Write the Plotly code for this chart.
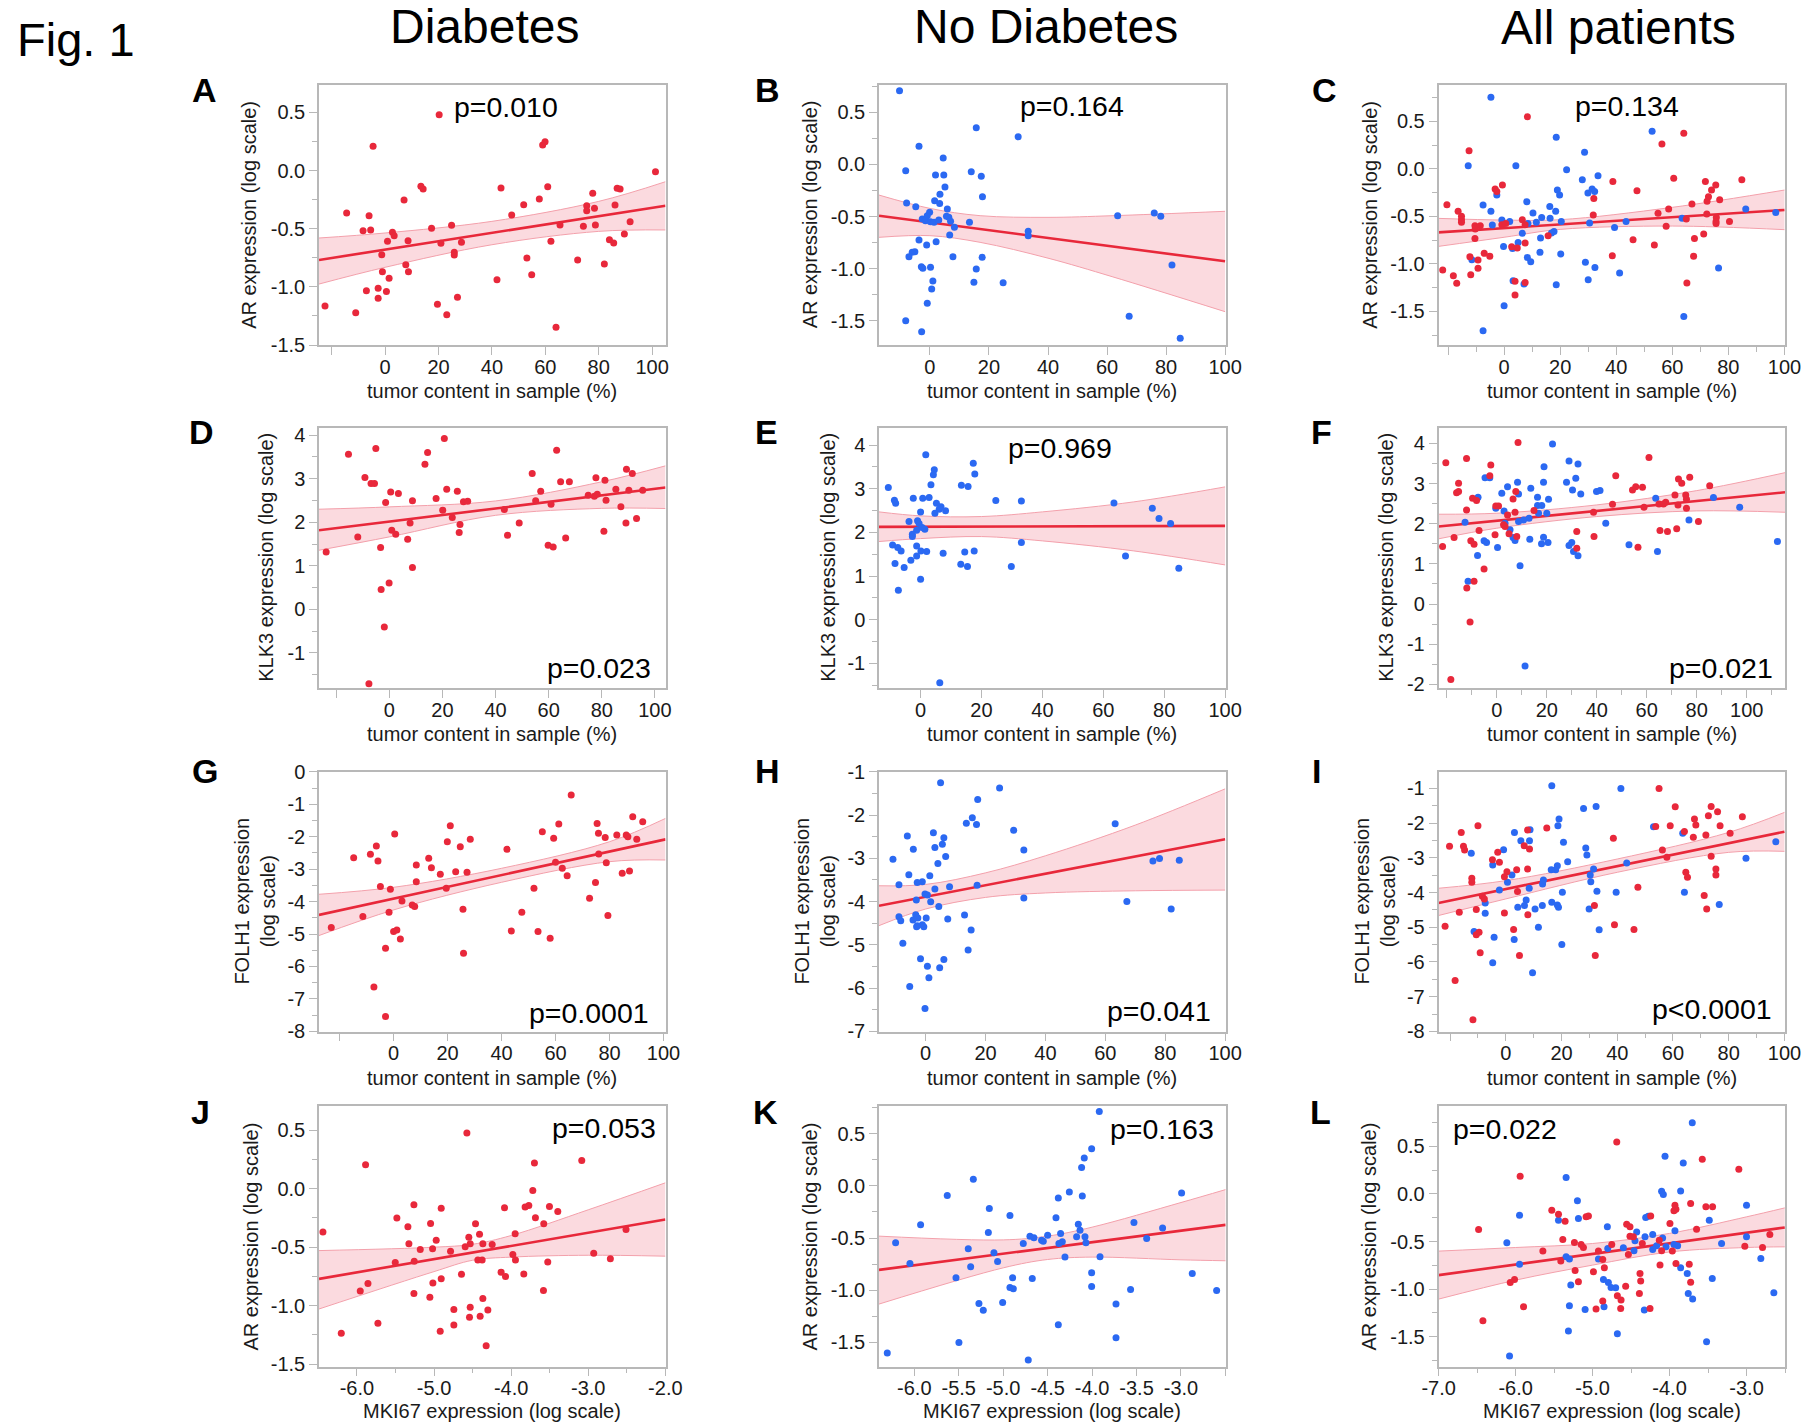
import plotly.graph_objects as go

# ---------------- data ----------------
A_diab = [(20.25,0.48),(-4.5,0.208),(59,0.219),(59.9,0.248),(101.25,-0.01),(43.4,-0.15),(60.9,-0.14),(13.4,-0.136),(14.25,-0.159),(7.1,-0.254),(57.75,-0.245),(51.9,-0.294),(77.75,-0.196),(86.9,-0.153),(88,-0.159),(86.1,-0.297),(75.5,-0.302),(75.5,-0.345),(78.4,-0.325),(-14.4,-0.365),(-6,-0.388),(47.4,-0.383),(91.75,-0.44),(-8.25,-0.517),(-5.4,-0.511),(17.4,-0.497),(24.9,-0.471),(65.5,-0.468),(74.25,-0.48),(78.75,-0.468),(2.75,-0.53),(3.4,-0.56),(0.9,-0.609),(8.6,-0.603),(20.9,-0.626),(28.6,-0.617),(62.1,-0.609),(84,-0.595),(85.6,-0.623),(89.6,-0.546),(-1.25,-0.723),(25.9,-0.703),(25.9,-0.726),(53.1,-0.752),(72.1,-0.769),(7.75,-0.809),(8.75,-0.87),(82.1,-0.804),(-1,-0.87),(1.5,-0.927),(54.9,-0.895),(41.9,-0.938),(-2.6,-1.013),(-7,-1.033),(0.5,-1.039),(-2.6,-1.099),(27.1,-1.09),(-22.5,-1.165),(-11,-1.222),(19.6,-1.15),(23.1,-1.239),(64,-1.348)]
A_fit_x = [-24.75, 105]
A_fit_y = [-0.769, -0.302]
A_band_x = [-24.75, 0, 40, 80, 105]
A_band_hi = [-0.58, -0.537, -0.437, -0.265, -0.096]
A_band_lo = [-0.976, -0.832, -0.638, -0.523, -0.511]

B_nodiab = [(-10.3,0.708),(-8.2,-0.06),(-3.7,0.174),(4.5,0.062),(1.9,-0.102),(4.7,-0.102),(14,-0.07),(17.4,-0.114),(15.7,0.353),(29.9,0.266),(5.1,-0.217),(3.4,-0.287),(17.8,-0.31),(-7.9,-0.37),(-4.8,-0.406),(1.6,-0.348),(3.3,-0.374),(5.9,-0.428),(-0.1,-0.46),(-0.9,-0.492),(-2.6,-0.524),(-1.5,-0.54),(0.2,-0.55),(1.4,-0.556),(3,-0.534),(5.6,-0.498),(6.4,-0.508),(7,-0.546),(8.3,-0.604),(13.4,-0.556),(6.7,-0.678),(63.6,-0.492),(76,-0.466),(78.2,-0.498),(33.3,-0.642),(33.3,-0.684),(-3.7,-0.726),(-1.1,-0.774),(2.1,-0.742),(-5.1,-0.838),(-6,-0.844),(-7.1,-0.886),(7.8,-0.886),(17.7,-0.892),(-2.9,-0.982),(-2.4,-0.998),(0.2,-0.988),(15.7,-1.004),(82,-0.966),(1,-1.119),(0.6,-1.196),(14.9,-1.132),(24.8,-1.135),(-0.9,-1.334),(-8.2,-1.5),(-2.8,-1.606),(67.5,-1.458),(84.8,-1.67)]
B_fit_x = [-17.25, 100]
B_fit_y = [-0.492, -0.93]
B_band_x = [-17.25, 0, 17, 40, 62, 100]
B_band_hi = [-0.294, -0.422, -0.492, -0.508, -0.492, -0.45]
B_band_lo = [-0.70, -0.684, -0.748, -0.90, -1.08, -1.414]

C_nodiab = [(-4.7,0.753),(-12.8,0.033),(4.2,0.033),(18.6,0.332),(28.7,0.174),(22.3,-0.009),(52.8,0.395),(27.9,-0.114),(33.5,-0.072),(-2.6,-0.275),(19,-0.223),(19.8,-0.275),(29.9,-0.254),(31.4,-0.212),(32.3,-0.237),(-7.5,-0.381),(-4.7,-0.447),(16.3,-0.395),(18.4,-0.447),(8.1,-0.346),(10.3,-0.465),(13.4,-0.511),(16.4,-0.521),(-0.8,-0.539),(2,-0.553),(-4.2,-0.591),(11.5,-0.563),(20.4,-0.553),(30.5,-0.57),(39.4,-0.616),(43.5,-0.553),(63.5,-0.521),(86.2,-0.423),(96.9,-0.458),(6.5,-0.679),(8.5,-0.574),(17.8,-0.658),(16.9,-0.675),(13,-0.728),(5,-0.774),(-0.2,-0.816),(3,-0.837),(12.8,-0.879),(20.2,-0.896),(8.3,-0.932),(9.5,-0.977),(-11.5,-0.956),(29,-0.984),(32.4,-1.037),(41.2,-1.096),(76.5,-1.044),(3.2,-1.177),(30,-1.167),(7.1,-1.212),(18.6,-1.219),(0,-1.44),(-7.5,-1.704),(64.1,-1.553)]
C_diab = [(8.3,0.549),(-12.5,0.191),(64.1,0.374),(56.3,0.261),(60.5,-0.1),(71.8,-0.132),(84.8,-0.114),(38.8,-0.132),(-0.6,-0.17),(-3.2,-0.212),(-2.6,-0.237),(47.4,-0.23),(74,-0.223),(75.5,-0.17),(32,-0.311),(72.9,-0.293),(72.4,-0.342),(76.9,-0.325),(-20.4,-0.377),(-16.4,-0.447),(67,-0.37),(-15.2,-0.5),(-15.2,-0.535),(-15.2,-0.563),(31.8,-0.486),(54.9,-0.468),(58.7,-0.423),(72.3,-0.475),(75.7,-0.511),(75.6,-0.553),(75.6,-0.574),(65,-0.528),(80.4,-0.553),(6.5,-0.535),(7.5,-0.588),(-0.8,-0.588),(0.6,-0.574),(-10.4,-0.598),(-8.5,-0.598),(-10.3,-0.633),(-10.4,-0.732),(57.8,-0.605),(15.7,-0.704),(7.5,-0.781),(71.2,-0.686),(46,-0.746),(67.9,-0.732),(53.6,-0.802),(2.7,-0.819),(4.7,-0.833),(-7.1,-0.889),(-5.1,-0.921),(-12.2,-0.925),(-9.3,-0.96),(38.6,-0.914),(67.6,-0.921),(-21.9,-1.065),(-9.3,-1.047),(-18.1,-1.125),(-11.9,-1.114),(-16.9,-1.205),(3.9,-1.184),(7.5,-1.195),(65.2,-1.202),(3.9,-1.328)]
C_fit_x = [-23.4, 100]
C_fit_y = [-0.668, -0.433]
C_band_x = [-23.4, 0, 20, 60, 100]
C_band_hi = [-0.521, -0.539, -0.535, -0.405, -0.223]
C_band_lo = [-0.816, -0.72, -0.637, -0.602, -0.64]

D_diab = [(20.7,3.923),(-5.1,3.694),(-15.4,3.564),(14.4,3.602),(63,3.655),(13.4,3.334),(-9.2,3.028),(-6.9,2.89),(-5.6,2.89),(53.8,3.119),(77.8,3.02),(81.2,2.966),(89.3,3.219),(91.5,3.119),(64.5,2.928),(67.8,2.928),(21.6,2.76),(25.6,2.714),(57,2.714),(0.5,2.698),(3.4,2.66),(85.3,2.76),(90.2,2.737),(95.4,2.737),(74.9,2.622),(77.2,2.599),(78.3,2.645),(55.1,2.492),(81.6,2.507),(17.6,2.545),(-1.4,2.453),(8.7,2.492),(27.9,2.469),(29.5,2.484),(60.9,2.415),(20.1,2.277),(43.3,2.293),(23.7,2.109),(87.2,2.354),(7.8,1.986),(26.6,1.948),(48.9,1.986),(89.1,1.986),(93.1,2.086),(0.9,1.818),(2.4,1.726),(26.3,1.764),(44.5,1.703),(80.8,1.795),(-11.9,1.665),(6.9,1.611),(66.4,1.642),(59.8,1.473),(61.7,1.435),(-23.8,1.32),(-3.3,1.42),(8.7,0.96),(-3.1,0.455),(-0.1,0.608),(-1.9,-0.403),(-7.7,-1.704)]
D_fit_x = [-26.5, 104]
D_fit_y = [1.818, 2.798]
D_band_x = [-26.5, 0, 40, 80, 104]
D_band_hi = [2.3, 2.354, 2.49, 2.93, 3.296]
D_band_lo = [1.358, 1.665, 2.16, 2.32, 2.316]

E_nodiab = [(1.7,3.778),(17.3,3.587),(4.5,3.434),(4.2,3.32),(17.8,3.342),(-10.6,3.029),(3.4,3.09),(13.4,3.083),(15.6,3.052),(-8.6,2.739),(-8.2,2.67),(-2.4,2.784),(0.7,2.784),(2.8,2.8),(24.7,2.731),(33.1,2.723),(63.5,2.677),(5.2,2.67),(6.7,2.586),(8.2,2.494),(6.1,2.532),(4.7,2.44),(0,2.471),(76.1,2.555),(78.3,2.318),(82.1,2.203),(-3.8,2.249),(-1,2.265),(-0.5,2.203),(0.5,2.112),(1.4,2.073),(-1.3,2.05),(-2.7,1.959),(-2.7,1.905),(33.1,1.768),(-9.2,1.714),(-7.5,1.653),(-6.4,1.576),(-1.3,1.691),(0.1,1.576),(2,1.561),(7.4,1.523),(14.5,1.553),(17.6,1.576),(-1.3,1.462),(-3.2,1.362),(-8.4,1.286),(-5.4,1.194),(13.2,1.271),(15.4,1.217),(29.8,1.217),(67.3,1.462),(84.8,1.179),(0,0.927),(-7.3,0.674),(6.3,-1.443)]
E_fit_x = [-13.66, 100]
E_fit_y = [2.127, 2.15]
E_band_x = [-13.66, 0, 20, 40, 70, 100]
E_band_hi = [2.471, 2.379, 2.364, 2.471, 2.7, 3.044]
E_band_lo = [1.791, 1.859, 1.905, 1.806, 1.576, 1.255]

F_diab = [(8.5,4.025),(-20.4,3.52),(-12.1,3.627),(-2.4,3.462),(-2.8,3.197),(-15.3,3.007),(-16.1,2.775),(-15.3,2.8),(60.9,3.652),(47.6,3.197),(77.2,3.156),(72.7,3.114),(74,3.007),(85.2,2.949),(54.3,2.841),(55.6,2.924),(58.3,2.907),(7.6,2.8),(-9.7,2.634),(-8.1,2.576),(6.5,2.618),(-0.4,2.444),(0.7,2.444),(71.3,2.717),(75.6,2.717),(75.9,2.609),(67.6,2.535),(64.9,2.493),(72.5,2.469),(75.9,2.386),(46.3,2.485),(58.9,2.411),(66.7,2.493),(-12.1,2.344),(14.9,2.328),(7.3,2.286),(38.7,2.286),(4.3,2.22),(2.7,1.972),(3.3,1.93),(80.7,2.055),(-7.1,1.831),(4.9,1.748),(-0.7,1.724),(8,1.682),(32,1.806),(65.3,1.831),(68.3,1.806),(72,1.873),(38.9,1.682),(-17.1,1.657),(-21.7,1.434),(-10.4,1.575),(-9.1,1.492),(32,1.392),(56.5,1.417),(-5.1,0.871),(-9.1,0.565),(-12,0.399),(-10.7,-0.445),(-18.4,-1.878)]
F_nodiab = [(22.3,3.983),(28.9,3.561),(32.5,3.487),(18.9,3.421),(-4.7,3.147),(-2.8,3.147),(31.6,3.131),(27.9,3.031),(8.3,3.031),(18.7,3.031),(4.3,2.924),(13.6,2.882),(30.3,2.841),(33.6,2.742),(39.9,2.8),(41.3,2.825),(2,2.758),(8.7,2.742),(-7.5,2.659),(16.3,2.659),(63.6,2.634),(86.7,2.651),(20.7,2.609),(16.3,2.452),(18,2.452),(-0.4,2.386),(2.9,2.32),(16.7,2.262),(20,2.262),(97.2,2.411),(12.9,2.137),(10.7,2.096),(8.7,2.055),(-12.7,2.038),(3.3,2.013),(43.6,2.013),(76.9,2.096),(5.3,1.848),(6.5,1.657),(7.3,1.583),(13.2,1.616),(18.7,1.666),(17.9,1.5),(20.5,1.533),(-5.1,1.575),(-4.1,1.533),(0.3,1.409),(30,1.533),(28.9,1.459),(52.9,1.475),(64.3,1.31),(112.3,1.558),(30.7,1.31),(32.5,1.202),(-7.7,1.21),(9.3,0.954),(-11.5,0.565),(11.3,-1.546)]
F_fit_x = [-23.33, 115.33]
F_fit_y = [1.93, 2.783]
F_band_x = [-23.33, 0, 40, 80, 115.33]
F_band_hi = [2.237, 2.262, 2.469, 2.825, 3.272]
F_band_lo = [1.624, 1.889, 2.179, 2.32, 2.286]

G_diab = [(65.8,-0.718),(88.6,-1.385),(92.3,-1.538),(21,-1.662),(61.2,-1.61),(75.4,-1.59),(0.4,-1.918),(55.1,-1.846),(75.9,-1.897),(78.4,-2.021),(82.7,-1.949),(86.2,-1.949),(86.8,-2),(90.1,-2.082),(59.3,-2.051),(19.9,-2.154),(28.4,-2.082),(24.7,-2.308),(-6.4,-2.287),(42,-2.39),(-14.8,-2.646),(-8.6,-2.544),(-5.8,-2.749),(13,-2.667),(76,-2.533),(60,-2.79),(8.4,-2.872),(14,-2.954),(62.5,-2.974),(78.8,-2.8),(23,-3.077),(27.2,-3.097),(64.3,-3.2),(84.7,-3.128),(87.4,-3.056),(17.3,-3.159),(8.4,-3.385),(-4.9,-3.538),(-1.2,-3.621),(19.5,-3.59),(52,-3.59),(74.8,-3.415),(72.6,-3.897),(3.1,-3.979),(6.9,-4.103),(7.8,-4.154),(-1.7,-4.328),(47.5,-4.328),(-11.4,-4.462),(79.4,-4.431),(25.7,-4.236),(-23.1,-4.8),(0,-4.923),(1.2,-4.872),(43.6,-4.903),(53.5,-4.923),(2.5,-5.149),(58,-5.128),(-3,-5.436),(25.9,-5.59),(-7.3,-6.636),(-3,-7.538)]
G_fit_x = [-27.65, 100.74]
G_fit_y = [-4.41, -2.082]
G_band_x = [-27.65, 0, 40, 80, 100.74]
G_band_hi = [-3.774, -3.559, -2.974, -2.154, -1.436]
G_band_lo = [-5.046, -4.256, -3.405, -2.769, -2.718]

H_nodiab = [(5,-1.253),(24.7,-1.369),(17.4,-1.637),(15.6,-2.06),(13.6,-2.19),(17,-2.214),(63.3,-2.198),(29.4,-2.352),(2.6,-2.406),(-6.1,-2.482),(6.1,-2.521),(5.6,-2.674),(3.1,-2.751),(-4.1,-2.79),(32.8,-2.805),(6.7,-2.959),(-10.9,-3.02),(75.9,-3.058),(78.1,-3.005),(84.7,-3.043),(4.1,-3.12),(-5.6,-3.381),(1.4,-3.404),(-8.9,-3.611),(-2.8,-3.558),(-1.1,-3.542),(8,-3.657),(17.2,-3.619),(3.1,-3.711),(-0.2,-3.826),(0.6,-3.849),(32.8,-3.919),(-3.1,-3.965),(1.7,-4.003),(67.2,-3.995),(4.4,-4.111),(82,-4.172),(-3.3,-4.303),(-8.9,-4.349),(-2.6,-4.379),(0.2,-4.379),(13,-4.31),(7.4,-4.402),(-8.3,-4.441),(-4.2,-4.425),(-2.8,-4.556),(-1.1,-4.533),(-3,-4.579),(-0.6,-4.579),(15.2,-4.656),(-7.6,-4.963),(14.2,-5.117),(-1.7,-5.324),(6.1,-5.339),(0.6,-5.493),(4.7,-5.532),(1.1,-5.762),(-5.3,-5.962),(-0.2,-6.476)]
H_fit_x = [-15.56, 100]
H_fit_y = [-4.095, -2.559]
H_band_x = [-15.56, 0, 20, 40, 70, 100]
H_band_hi = [-3.634, -3.603, -3.335, -2.94, -2.23, -1.392]
H_band_lo = [-4.556, -4.172, -3.903, -3.80, -3.75, -3.734]

I_nodiab = [(16.5,-0.923),(41.3,-1),(27.9,-1.575),(32.4,-1.518),(19.1,-1.882),(18.7,-2.074),(3.1,-2.266),(53,-2.103),(63.5,-2.294),(5.4,-2.505),(8.5,-2.505),(8.7,-2.189),(20.7,-2.553),(96.9,-2.534),(-12.4,-2.87),(-0.8,-2.764),(28.7,-2.716),(29.1,-2.918),(86.2,-3.013),(22.2,-3.109),(-4.7,-3.205),(18.5,-3.224),(17.9,-3.339),(16.3,-3.339),(31.5,-3.32),(43.4,-3.148),(2.2,-3.493),(0.6,-3.704),(13.5,-3.637),(13.2,-3.752),(30.3,-3.493),(30.5,-3.685),(-2.3,-3.924),(8.4,-3.876),(20.3,-3.991),(32.7,-3.963),(39.6,-3.991),(64.1,-3.991),(-7.4,-4.298),(7.3,-4.212),(6.7,-4.375),(4.3,-4.423),(10.5,-4.471),(13.1,-4.375),(16.5,-4.279),(18.5,-4.356),(18.9,-4.423),(29.9,-4.471),(76.6,-4.346),(-7.4,-4.595),(11.7,-4.998),(33.5,-5.075),(-11.4,-5.123),(3,-5.353),(-4.2,-5.286),(20.1,-5.497),(-4.7,-6.024),(9.6,-6.312)]
I_diab = [(55,-1),(60.8,-1.527),(73.7,-1.518),(76,-1.671),(67.7,-1.882),(72.7,-1.786),(68.2,-2.055),(59,-2.074),(53.8,-2.093),(76.9,-2.074),(84.9,-1.815),(-10,-2.074),(14.7,-2.141),(7.8,-2.199),(64.1,-2.237),(-16,-2.266),(80.5,-2.294),(71.8,-2.342),(67.3,-2.409),(38.6,-2.438),(-20.2,-2.668),(-15.2,-2.668),(-14.8,-2.774),(6.6,-2.649),(8.5,-2.745),(-2.9,-2.841),(56.2,-2.774),(57.8,-2.985),(73.7,-2.956),(-4.8,-3.052),(-2.3,-3.129),(3.9,-3.339),(7.8,-3.32),(0.4,-3.397),(-0.5,-3.541),(75.4,-3.32),(64.6,-3.416),(75.4,-3.493),(65.2,-3.56),(-12.2,-3.589),(-12.2,-3.704),(4.2,-3.972),(47.4,-3.848),(-8.4,-4.106),(-7.7,-4.183),(71.2,-4.087),(31.8,-4.375),(-10.6,-4.49),(72.1,-4.471),(-16.7,-4.567),(-0.5,-4.586),(7.9,-4.643),(39,-4.931),(46,-5.065),(2.8,-5.065),(-21.8,-4.969),(-9.6,-5.142),(-10.6,-5.219),(-9.2,-5.736),(4.9,-5.813),(32.1,-5.813),(-18.2,-6.532),(-11.8,-7.663)]
I_fit_x = [-24.16, 100]
I_fit_y = [-4.298, -2.246]
I_band_x = [-24.16, 0, 40, 80, 100]
I_band_hi = [-3.876, -3.656, -3.033, -2.266, -1.69]
I_band_lo = [-4.662, -4.183, -3.416, -2.841, -2.812]

J_diab = [(-4.574,0.477),(-5.888,0.206),(-3.698,0.22),(-3.084,0.243),(-3.719,-0.014),(-3.771,-0.143),(-3.819,-0.157),(-3.503,-0.151),(-4.086,-0.163),(-4.907,-0.166),(-5.261,-0.137),(-3.395,-0.194),(-5.482,-0.251),(-3.685,-0.249),(-5.339,-0.326),(-5.045,-0.297),(-4.462,-0.3),(-3.577,-0.3),(-4.41,-0.389),(-3.948,-0.386),(-6.441,-0.369),(-2.51,-0.349),(-4.972,-0.44),(-4.549,-0.414),(-5.326,-0.471),(-4.531,-0.471),(-4.367,-0.471),(-4.246,-0.477),(-4.596,-0.497),(-5.179,-0.52),(-5.019,-0.514),(-4.786,-0.534),(-3.978,-0.563),(-2.929,-0.551),(-5.503,-0.631),(-5.257,-0.62),(-4.432,-0.609),(-4.376,-0.609),(-3.944,-0.609),(-3.525,-0.626),(-2.713,-0.6),(-4.13,-0.714),(-4.073,-0.751),(-3.836,-0.729),(-4.644,-0.731),(-5.015,-0.806),(-4.907,-0.771),(-5.857,-0.811),(-5.957,-0.874),(-3.581,-0.871),(-5.261,-0.897),(-5.054,-0.929),(-4.367,-0.94),(-4.743,-1.034),(-4.531,-1.014),(-4.302,-1.037),(-4.54,-1.1),(-4.402,-1.091),(-5.728,-1.151),(-4.743,-1.166),(-4.92,-1.22),(-6.203,-1.237),(-4.324,-1.343)]
J_fit_x = [-6.492, -2.0]
J_fit_y = [-0.771, -0.263]
J_band_x = [-6.492, -5, -4.5, -4, -3, -2.0]
J_band_hi = [-0.529, -0.5, -0.475, -0.4, -0.18, 0.051]
J_band_lo = [-1.029, -0.709, -0.612, -0.585, -0.569, -0.577]

K_nodiab = [(-3.919,0.711),(-4.005,0.356),(-4.088,0.267),(-4.118,0.175),(-5.336,0.063),(-4.256,-0.058),(-4.11,-0.097),(-2.993,-0.068),(-5.629,-0.093),(-4.38,-0.116),(-5.156,-0.218),(-4.924,-0.285),(-4.406,-0.307),(-5.929,-0.374),(-4.155,-0.368),(-3.529,-0.352),(-4.136,-0.425),(-4.354,-0.457),(-5.167,-0.447),(-3.207,-0.403),(-4.699,-0.482),(-4.654,-0.498),(-4.5,-0.473),(-4.174,-0.489),(-4.08,-0.489),(-4.568,-0.521),(-4.549,-0.53),(-4.335,-0.537),(-4.373,-0.553),(-3.386,-0.505),(-4.069,-0.546),(-6.21,-0.546),(-4.774,-0.553),(-5.393,-0.604),(-5.104,-0.642),(-6.049,-0.744),(-5.366,-0.776),(-5.063,-0.725),(-4.305,-0.683),(-3.911,-0.68),(-5.531,-0.881),(-4.894,-0.881),(-4.673,-0.888),(-2.873,-0.84),(-4.005,-0.833),(-4.924,-0.974),(-4.886,-0.986),(-4.005,-0.964),(-3.567,-0.993),(-2.599,-1.002),(-5.273,-1.127),(-5.224,-1.191),(-5.006,-1.117),(-3.731,-1.133),(-4.38,-1.331),(-5.498,-1.5),(-3.731,-1.455),(-6.304,-1.602),(-4.718,-1.669)]
K_fit_x = [-6.397, -2.498]
K_fit_y = [-0.805, -0.374]
K_band_x = [-6.397, -5, -4.5, -4, -3, -2.498]
K_band_hi = [-0.482, -0.518, -0.482, -0.396, -0.16, -0.036]
K_band_lo = [-1.133, -0.786, -0.706, -0.683, -0.709, -0.718]

L_nodiab = [(-3.705,0.748),(-4.059,0.395),(-3.822,0.325),(-5.344,0.171),(-4.103,0.028),(-4.081,-0.007),(-3.856,0.031),(-5.197,-0.073),(-3,-0.119),(-5.949,-0.224),(-5.443,-0.276),(-5.184,-0.259),(-4.31,-0.248),(-4.276,-0.234),(-3.484,-0.276),(-4.808,-0.346),(-4.427,-0.399),(-4.219,-0.427),(-3.93,-0.388),(-4.09,-0.462),(-4.319,-0.451),(-6.114,-0.514),(-3.324,-0.521),(-3,-0.451),(-4.449,-0.493),(-4.168,-0.545),(-4.046,-0.556),(-3.943,-0.531),(-3.895,-0.545),(-4.803,-0.573),(-4.6,-0.566),(-4.462,-0.598),(-4.219,-0.584),(-5.949,-0.738),(-5.344,-0.661),(-5.301,-0.685),(-4.924,-0.685),(-2.814,-0.678),(-3.856,-0.776),(-3.77,-0.836),(-5.283,-0.958),(-4.859,-0.899),(-4.795,-0.93),(-4.76,-0.983),(-4.7,-0.986),(-3.445,-0.888),(-3.757,-1.045),(-3.7,-1.105),(-2.645,-1.038),(-5.301,-1.175),(-5.097,-1.213),(-4.851,-1.185),(-4.328,-1.22),(-5.314,-1.441),(-4.678,-1.469),(-3.519,-1.552),(-6.079,-1.703)]
L_diab = [(-4.686,0.545),(-3.575,0.364),(-3.1,0.259),(-5.941,0.185),(-3.93,-0.119),(-3.917,-0.161),(-3.726,-0.101),(-3.528,-0.136),(-3.441,-0.136),(-3.943,-0.178),(-5.53,-0.171),(-5.443,-0.213),(-5.084,-0.241),(-5.054,-0.231),(-4.245,-0.231),(-5.357,-0.287),(-4.557,-0.318),(-4.514,-0.346),(-3.995,-0.311),(-6.481,-0.374),(-3.649,-0.371),(-4.514,-0.444),(-4.47,-0.451),(-2.697,-0.427),(-5.387,-0.479),(-5.236,-0.51),(-5.149,-0.531),(-5.119,-0.563),(-4.751,-0.531),(-4.354,-0.521),(-4.133,-0.486),(-3.022,-0.549),(-2.792,-0.563),(-5.646,-0.601),(-4.924,-0.601),(-4.103,-0.598),(-3.964,-0.601),(-4.535,-0.636),(-4.868,-0.689),(-5.413,-0.706),(-4.124,-0.748),(-3.917,-0.731),(-3.744,-0.738),(-4.847,-0.776),(-5.227,-0.804),(-4.989,-0.818),(-4.384,-0.836),(-6.014,-0.899),(-6.07,-0.93),(-5.184,-0.923),(-4.375,-0.916),(-3.726,-0.927),(-4.57,-0.969),(-4.392,-1.045),(-4.678,-1.07),(-4.63,-1.115),(-4.868,-1.126),(-5.897,-1.185),(-4.955,-1.21),(-4.635,-1.203),(-4.254,-1.203),(-6.425,-1.332)]
L_fit_x = [-7.0, -2.503]
L_fit_y = [-0.853, -0.353]
L_band_x = [-7.0, -6, -5, -4, -3, -2.503]
L_band_hi = [-0.601, -0.563, -0.521, -0.415, -0.241, -0.147]
L_band_lo = [-1.105, -0.906, -0.748, -0.61, -0.563, -0.556]

P_VALUES = ["p=0.010", "p=0.164", "p=0.134", "p=0.023", "p=0.969", "p=0.021",
            "p=0.0001", "p=0.041", "p<0.0001", "p=0.053", "p=0.163", "p=0.022"]
COLUMN_TITLES = ["Diabetes", "No Diabetes", "All patients"]
AR_TICKS = [-1.5, -1.0, -0.5, 0.0, 0.5]
AR_TICKTEXT = ["-1.5", "-1.0", "-0.5", "0.0", "0.5"]
TUMOR_TICKS = [-20, 0, 20, 40, 60, 80, 100]
TUMOR_TICKTEXT = ["", "0", "20", "40", "60", "80", "100"]

# ---------------- styling / layout ----------------
W, H = 1801, 1427
FONT = "Liberation Sans, Arial, sans-serif"
RED = "#E8283B"
BLUE = "#2B69F2"
FIT = "#E8283A"
BAND_FILL = "rgba(240,100,120,0.24)"
BAND_EDGE = "#F3A0AB"
FRAME = "#B8B8B8"
TXT = "#1a1a1a"

def fxp(px):
    return px / W

def fyp(py):
    return 1 - py / H

COLS = [(319.0, 665.5), (879.0, 1225.7), (1438.5, 1785.0)]
ROWS = [(84.7, 345.0), (427.5, 688.0), (771.5, 1031.7), (1106.3, 1366.7)]

def int_ticks(a, b):
    v = list(range(a, b + 1))
    return v, [str(t) for t in v]

panels = [
    dict(letter="A", row=0, col=0, series=[(A_diab, RED)], fit=(A_fit_x, A_fit_y), band=(A_band_x, A_band_hi, A_band_lo),
         xr=[-24.75, 105], yr=[-1.5, 0.738], xt=(TUMOR_TICKS, TUMOR_TICKTEXT), xminor=None,
         yt=(AR_TICKS, AR_TICKTEXT), yminor=0.25, ytitle="AR expression (log scale)", ytx=249,
         xtitle="tumor content in sample (%)", p=(506, 107, "center"), lx=191),
    dict(letter="B", row=0, col=1, series=[(B_nodiab, BLUE)], fit=(B_fit_x, B_fit_y), band=(B_band_x, B_band_hi, B_band_lo),
         xr=[-17.25, 100.2], yr=[-1.734, 0.766], xt=(TUMOR_TICKS[1:], TUMOR_TICKTEXT[1:]), xminor=None,
         yt=(AR_TICKS, AR_TICKTEXT), yminor=0.25, ytitle="AR expression (log scale)", ytx=809.5,
         xtitle="tumor content in sample (%)", p=(1072, 106, "center"), lx=754),
    dict(letter="C", row=0, col=2, series=[(C_nodiab, BLUE), (C_diab, RED)], fit=(C_fit_x, C_fit_y), band=(C_band_x, C_band_hi, C_band_lo),
         xr=[-23.4, 100.2], yr=[-1.854, 0.886], xt=(TUMOR_TICKS, TUMOR_TICKTEXT), xminor=10,
         yt=(AR_TICKS, AR_TICKTEXT), yminor=0.25, ytitle="AR expression (log scale)", ytx=1370,
         xtitle="tumor content in sample (%)", p=(1627, 106, "center"), lx=1311),
    dict(letter="D", row=1, col=0, series=[(D_diab, RED)], fit=(D_fit_x, D_fit_y), band=(D_band_x, D_band_hi, D_band_lo),
         xr=[-26.5, 104], yr=[-1.804, 4.176], xt=(TUMOR_TICKS, TUMOR_TICKTEXT), xminor=None,
         yt=int_ticks(-1, 4), yminor=0.5, ytitle="KLK3 expression (log scale)", ytx=266,
         xtitle="tumor content in sample (%)", p=(652, 668, "right"), lx=188),
    dict(letter="E", row=1, col=1, series=[(E_nodiab, BLUE)], fit=(E_fit_x, E_fit_y), band=(E_band_x, E_band_hi, E_band_lo),
         xr=[-13.66, 100.2], yr=[-1.566, 4.405], xt=(TUMOR_TICKS[1:], TUMOR_TICKTEXT[1:]), xminor=None,
         yt=int_ticks(-1, 4), yminor=0.5, ytitle="KLK3 expression (log scale)", ytx=828,
         xtitle="tumor content in sample (%)", p=(1060, 448, "center"), lx=754),
    dict(letter="F", row=1, col=2, series=[(F_nodiab, BLUE), (F_diab, RED)], fit=(F_fit_x, F_fit_y), band=(F_band_x, F_band_hi, F_band_lo),
         xr=[-23.33, 115.33], yr=[-2.091, 4.397], xt=(TUMOR_TICKS, TUMOR_TICKTEXT), xminor=10,
         yt=int_ticks(-2, 4), yminor=0.5, ytitle="KLK3 expression (log scale)", ytx=1386,
         xtitle="tumor content in sample (%)", p=(1774, 668, "right"), lx=1310),
    dict(letter="G", row=2, col=0, series=[(G_diab, RED)], fit=(G_fit_x, G_fit_y), band=(G_band_x, G_band_hi, G_band_lo),
         xr=[-27.65, 100.74], yr=[-8.01, 0.01], xt=(TUMOR_TICKS, TUMOR_TICKTEXT), xminor=None,
         yt=int_ticks(-8, 0), yminor=0.5, ytitle="FOLH1 expression<br>(log scale)", ytx=255,
         xtitle="tumor content in sample (%)", p=(650, 1013, "right"), lx=191),
    dict(letter="H", row=2, col=1, series=[(H_nodiab, BLUE)], fit=(H_fit_x, H_fit_y), band=(H_band_x, H_band_hi, H_band_lo),
         xr=[-15.56, 100.2], yr=[-7.01, -0.99], xt=(TUMOR_TICKS[1:], TUMOR_TICKTEXT[1:]), xminor=None,
         yt=int_ticks(-7, -1), yminor=0.5, ytitle="FOLH1 expression<br>(log scale)", ytx=815,
         xtitle="tumor content in sample (%)", p=(1212, 1011, "right"), lx=754),
    dict(letter="I", row=2, col=2, series=[(I_nodiab, BLUE), (I_diab, RED)], fit=(I_fit_x, I_fit_y), band=(I_band_x, I_band_hi, I_band_lo),
         xr=[-24.16, 100.2], yr=[-8.01, -0.511], xt=(TUMOR_TICKS, TUMOR_TICKTEXT), xminor=10,
         yt=int_ticks(-8, -1), yminor=0.5, ytitle="FOLH1 expression<br>(log scale)", ytx=1375,
         xtitle="tumor content in sample (%)", p=(1773, 1009, "right"), lx=1311),
    dict(letter="J", row=3, col=0, series=[(J_diab, RED)], fit=(J_fit_x, J_fit_y), band=(J_band_x, J_band_hi, J_band_lo),
         xr=[-6.492, -1.998], yr=[-1.523, 0.706], xt=([-6, -5, -4, -3, -2], ["-6.0", "-5.0", "-4.0", "-3.0", "-2.0"]), xminor=0.5,
         yt=(AR_TICKS, AR_TICKTEXT), yminor=0.25, ytitle="AR expression (log scale)", ytx=250,
         xtitle="MKI67 expression (log scale)", p=(657, 1128, "right"), lx=190),
    dict(letter="K", row=3, col=1, series=[(K_nodiab, BLUE)], fit=(K_fit_x, K_fit_y), band=(K_band_x, K_band_hi, K_band_lo),
         xr=[-6.397, -2.497], yr=[-1.733, 0.762],
         xt=([-6, -5.5, -5, -4.5, -4, -3.5, -3, -2.5], ["-6.0", "-5.5", "-5.0", "-4.5", "-4.0", "-3.5", "-3.0", ""]), xminor=None,
         yt=(AR_TICKS, AR_TICKTEXT), yminor=0.25, ytitle="AR expression (log scale)", ytx=809,
         xtitle="MKI67 expression (log scale)", p=(1215, 1129, "right"), lx=752),
    dict(letter="L", row=3, col=2, series=[(L_nodiab, BLUE), (L_diab, RED)], fit=(L_fit_x, L_fit_y), band=(L_band_x, L_band_hi, L_band_lo),
         xr=[-7.002, -2.5], yr=[-1.815, 0.92], xt=([-7, -6, -5, -4, -3], ["-7.0", "-6.0", "-5.0", "-4.0", "-3.0"]), xminor=0.5,
         yt=(AR_TICKS, AR_TICKTEXT), yminor=0.25, ytitle="AR expression (log scale)", ytx=1368,
         xtitle="MKI67 expression (log scale)", p=(1452, 1129, "left"), lx=1309),
]

LETTER_Y = [90, 432, 771, 1112]

fig = go.Figure()
annotations = []

def ann(text, xpx, ypx, size, xanchor="center", yanchor="middle", angle=0, bold=False, color=TXT):
    annotations.append(dict(
        text=f"<b>{text}</b>" if bold else text, x=fxp(xpx), y=fyp(ypx), xref="paper", yref="paper",
        xanchor=xanchor, yanchor=yanchor, textangle=angle, showarrow=False, borderpad=0,
        font=dict(family=FONT, size=size, color=color), align="center"))

for i, pn in enumerate(panels):
    k = i + 1
    xa = "x" if k == 1 else f"x{k}"
    ya = "y" if k == 1 else f"y{k}"
    L, R = COLS[pn["col"]]
    T, B = ROWS[pn["row"]]

    bx, bhi, blo = pn["band"]
    fig.add_trace(go.Scatter(x=bx, y=blo, mode="lines", line=dict(color=BAND_EDGE, width=1, shape="spline"),
                             xaxis=xa, yaxis=ya, showlegend=False, hoverinfo="skip"))
    fig.add_trace(go.Scatter(x=bx, y=bhi, mode="lines", line=dict(color=BAND_EDGE, width=1, shape="spline"),
                             fill="tonexty", fillcolor=BAND_FILL, xaxis=xa, yaxis=ya, showlegend=False, hoverinfo="skip"))
    fx, fy = pn["fit"]
    fig.add_trace(go.Scatter(x=fx, y=fy, mode="lines", line=dict(color=FIT, width=2.6),
                             xaxis=xa, yaxis=ya, showlegend=False))
    for pts, col in pn["series"]:
        fig.add_trace(go.Scatter(x=[p[0] for p in pts], y=[p[1] for p in pts], mode="markers",
                                 marker=dict(color=col, size=7, line=dict(width=0)),
                                 xaxis=xa, yaxis=ya, showlegend=False, cliponaxis=True))

    common = dict(showline=True, linecolor=FRAME, linewidth=1.5, mirror=True, showgrid=False, zeroline=False,
                  ticks="outside", ticklen=8, tickwidth=1.2, tickcolor=FRAME, automargin=False,
                  ticklabeloverflow="allow",
                  tickfont=dict(family=FONT, size=20, color=TXT), tickmode="array")
    xaxis = dict(common, domain=[fxp(L), fxp(R)], anchor=ya, range=pn["xr"],
                 tickvals=pn["xt"][0], ticktext=pn["xt"][1], ticklabelstandoff=-5)
    if pn["xminor"]:
        xaxis["minor"] = dict(ticks="outside", ticklen=5, tickwidth=1.2, tickcolor=FRAME, dtick=pn["xminor"], tick0=0, showgrid=False)
    yaxis = dict(common, domain=[fyp(B), fyp(T)], anchor=xa, range=pn["yr"],
                 tickvals=pn["yt"][0], ticktext=pn["yt"][1])
    if pn["yminor"]:
        yaxis["minor"] = dict(ticks="outside", ticklen=5, tickwidth=1.2, tickcolor=FRAME, dtick=pn["yminor"], tick0=0, showgrid=False)
    fig.layout["xaxis" if k == 1 else f"xaxis{k}"] = xaxis
    fig.layout["yaxis" if k == 1 else f"yaxis{k}"] = yaxis

    ann(pn["ytitle"], pn["ytx"], (T + B) / 2, 20, angle=-90)
    ann(pn["xtitle"], (L + R) / 2, B + 46 if pn["row"] < 3 else B + 44, 20)
    px_, py_, anc = pn["p"]
    ann(P_VALUES[i], px_, py_, 28.5, xanchor=anc, color="#000")
    ann(pn["letter"], pn["lx"], LETTER_Y[pn["row"]], 34, xanchor="left", bold=True, color="#000")

ann(COLUMN_TITLES[0], 485, 27, 48, color="#000")
ann(COLUMN_TITLES[1], 1046, 27, 48, color="#000")
ann(COLUMN_TITLES[2], 1618, 28, 48, color="#000")
ann("Fig. 1", 16, 40, 47, xanchor="left", color="#000")

fig.update_layout(width=W, height=H, margin=dict(l=0, r=0, t=0, b=0, pad=0, autoexpand=False),
                  paper_bgcolor="white", plot_bgcolor="white", annotations=annotations,
                  showlegend=False, font=dict(family=FONT))
fig.write_html("out.html")
